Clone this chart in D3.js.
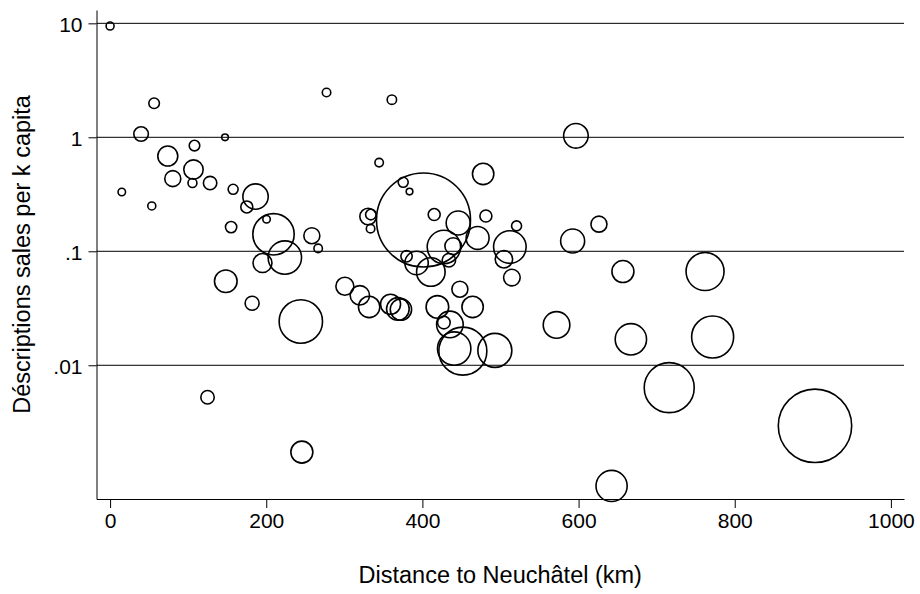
<!DOCTYPE html>
<html>
<head>
<meta charset="utf-8">
<script src="https://cdn.jsdelivr.net/npm/d3@7"></script>
<style>
  body { margin: 0; background: #fff; overflow: hidden; }
  svg { display: block; }
  text { font-family: "Liberation Sans", Arial, sans-serif; fill: #000; }
</style>
</head>
<body>
<svg id="chart"></svg>
<script>
// distance (km), sales per 1000 inhabitants, population (bubble size)
const distanceKm = [
  0, 56.4, 39.7, 147.2, 108.1, 73.9, 106.8, 80.3, 105.5, 128.1,
  15.0, 157.6, 186.3, 175.1, 53.4, 200.4, 209.3, 155.0, 258.4, 266.5,
  223.8, 195.2, 148.2, 181.9, 244.3, 124.8, 245.6, 277.2, 360.9, 344.6,
  375.4, 383.5, 401.4, 330.5, 334.0, 333.6, 415.1, 445.8, 470.7, 427.5,
  439.4, 379.7, 392.5, 410.8, 433.9, 300.7, 319.9, 331.8, 359.2, 368.6,
  372.5, 419.2, 427.5, 435.2, 440.7, 451.8, 448.0, 464.3, 492.8, 596.6,
  477.8, 481.3, 520.6, 626.1, 592.4, 512.0, 504.4, 514.6, 656.8, 762.0,
  571.8, 667.0, 771.7, 716.1, 642.3, 902.8
];
const salesPerK = [
  9.47, 1.99, 1.07, 1.0, 0.846, 0.685, 0.521, 0.434, 0.397, 0.397,
  0.331, 0.35, 0.302, 0.245, 0.25, 0.191, 0.141, 0.163, 0.137, 0.106,
  0.088, 0.0789, 0.0546, 0.035, 0.0242, 0.00524, 0.00173, 2.47, 2.14, 0.6,
  0.403, 0.334, 0.188, 0.202, 0.21, 0.158, 0.21, 0.177, 0.131, 0.109,
  0.111, 0.0904, 0.0789, 0.0658, 0.0834, 0.0493, 0.0411, 0.0325, 0.0343, 0.0312,
  0.0308, 0.0325, 0.0237, 0.0228, 0.014, 0.0133, 0.0465, 0.0325, 0.0135, 1.03,
  0.477, 0.204, 0.167, 0.173, 0.123, 0.109, 0.0851, 0.0588, 0.0664, 0.0664,
  0.0226, 0.0169, 0.0177, 0.00636, 0.000873, 0.00294
];
const population = [
  16, 28, 53, 11, 28, 100, 94, 64, 20, 45,
  14, 25, 161, 36, 16, 14, 428, 32, 64, 18,
  279, 90, 128, 49, 471, 45, 121, 18, 22, 18,
  25, 11, 2209, 69, 28, 18, 36, 144, 132, 279,
  69, 32, 137, 204, 45, 81, 94, 114, 100, 128,
  114, 128, 40, 177, 279, 576, 64, 114, 289, 151,
  114, 36, 25, 64, 144, 266, 76, 69, 121, 361,
  177, 246, 441, 625, 243, 1347
];

const xTicks = [0, 200, 400, 600, 800, 1000];
const yTicks = [10, 1, 0.1, 0.01];
const yTickLabels = ['10', '1', '.1', '.01'];

const width = 920;
const height = 594;
const margin = { top: 10, right: 16, bottom: 95, left: 96.5 };
const innerWidth = width - margin.left - margin.right;
const innerHeight = height - margin.top - margin.bottom;

const svg = d3.select('#chart')
  .attr('width', width)
  .attr('height', height);

const g = svg.append('g')
  .attr('transform', `translate(${margin.left}, ${margin.top})`);

const xScale = d3.scaleLinear().domain([-17.4, 1016.8]).range([0, innerWidth]);
const yScale = d3.scaleLog().domain([0.000671, 13.09]).range([innerHeight, 0]);
const rScale = d3.scaleSqrt().domain([0, 2209]).range([0, 47]);

// horizontal grid
g.selectAll('.grid')
  .data(yTicks)
  .enter().append('line')
    .attr('class', 'grid')
    .attr('x1', 0)
    .attr('x2', innerWidth)
    .attr('y1', d => yScale(d))
    .attr('y2', d => yScale(d))
    .attr('stroke', '#000')
    .attr('stroke-width', 1);

const points = distanceKm.map((d, i) => ({ x: d, y: salesPerK[i], pop: population[i] }));

g.selectAll('.bubble')
  .data(points)
  .enter().append('circle')
    .attr('class', 'bubble')
    .attr('cx', d => xScale(d.x))
    .attr('cy', d => yScale(d.y))
    .attr('r', d => rScale(d.pop))
    .attr('fill', 'none')
    .attr('stroke', '#000')
    .attr('stroke-width', 1.6);

const xAxis = g.append('g')
  .attr('transform', `translate(0, ${innerHeight})`)
  .call(d3.axisBottom(xScale)
          .tickValues(xTicks)
          .tickSize(9)
          .tickSizeOuter(0)
          .tickPadding(5)
          .tickFormat(d3.format('d'))
        );

const yAxis = g.append('g')
  .call(d3.axisLeft(yScale)
          .tickValues(yTicks)
          .tickSize(8)
          .tickSizeOuter(0)
          .tickPadding(6)
          .tickFormat((d, i) => yTickLabels[i])
        );

[xAxis, yAxis].forEach(a => a.attr('font-size', 21).attr('font-family', null));
svg.selectAll('.domain, .tick line').attr('stroke', '#000').attr('stroke-width', 1);
svg.selectAll('.tick text').attr('fill', '#000');
yAxis.selectAll('.tick text').attr('dy', '0.38em');

svg.append('text')
  .attr('x', margin.left + innerWidth / 2)
  .attr('y', 583)
  .attr('text-anchor', 'middle')
  .attr('font-size', 23.5)
  .text('Distance to Neuchâtel (km)');

svg.append('text')
  .attr('transform', `translate(29.5, ${margin.top + innerHeight / 2}) rotate(-90)`)
  .attr('text-anchor', 'middle')
  .attr('font-size', 23.5)
  .text('Déscriptions sales per k capita');
</script>
</body>
</html>
